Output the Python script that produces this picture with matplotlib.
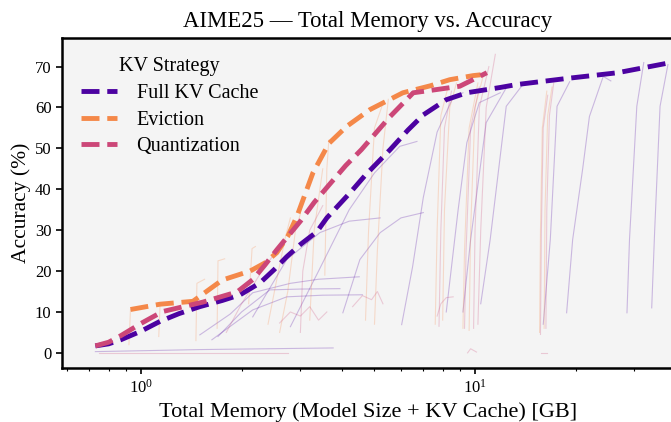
import matplotlib
matplotlib.use('Agg')
import matplotlib.pyplot as plt

plt.rcParams['font.family'] = ['Liberation Serif', 'DejaVu Serif']
plt.rcParams['mathtext.fontset'] = 'custom'
plt.rcParams['mathtext.rm'] = 'Liberation Serif'
plt.rcParams['mathtext.it'] = 'Liberation Serif:italic'

# ---- main (frontier) curves ----
full_mem = [0.73, 0.8, 0.87, 1.0, 1.14, 1.3, 1.5, 1.75, 1.98, 2.27, 2.5, 2.73, 3.0, 3.36, 3.6, 4.22, 4.7, 5.57, 6.3, 7.0, 8.2, 9.44, 11.9, 13.3, 18.8, 26.7, 38.6]
full_acc = [1.7, 2.2, 3.2, 5.3, 7.7, 9.6, 11.3, 12.8, 14.2, 17.1, 20.3, 23.5, 26.5, 29.6, 33.0, 39.1, 43.5, 49.7, 54.5, 58.2, 61.9, 63.6, 64.9, 65.6, 67.1, 68.5, 71.0]

evict_mem = [0.93, 1.14, 1.43, 1.6, 1.75, 2.12, 2.35, 2.55, 2.75, 2.93, 3.27, 3.65, 4.13, 4.85, 6.08, 7.34, 8.4, 9.87, 10.4]
evict_acc = [10.6, 11.9, 12.6, 15.5, 17.8, 20.0, 22.0, 24.5, 28.5, 33.4, 44.0, 51.2, 55.4, 59.5, 63.6, 65.3, 66.8, 67.8, 68.0]

quant_mem = [0.73, 0.8, 0.87, 1.0, 1.16, 1.53, 1.94, 2.16, 2.35, 2.55, 3.0, 3.3, 3.65, 4.1, 4.57, 5.57, 6.53, 7.69, 9.0, 10.85]
quant_acc = [1.7, 2.6, 4.2, 7.2, 10.1, 12.4, 14.9, 17.9, 21.5, 25.2, 32.2, 36.8, 41.0, 45.8, 49.7, 57.8, 63.6, 64.4, 65.2, 68.5]

# ---- individual configuration traces (faint) ----
full_runs = [
    ([0.73, 1.5, 3.76], [0.3, 0.8, 1.2]),
    ([1.5, 1.85, 2.16, 2.8, 3.4, 4.5], [4.4, 9.5, 14.7, 17.0, 18.0, 18.6]),
    ([1.63, 2.16, 2.73, 3.5, 4.6], [3.2, 10.5, 13.7, 14.1, 14.2]),
    ([1.7, 2.0, 2.43, 3.0, 3.94], [4.0, 10.0, 15.4, 15.6, 15.7]),
    ([2.16, 2.73, 3.43, 4.2, 5.2], [8.8, 22.8, 29.4, 32.2, 33.0]),
    ([4.02, 4.52, 5.2, 6.0, 7.0], [9.8, 22.8, 29.4, 33.0, 34.3]),
    ([6.03, 6.5, 7.0, 7.7, 8.6, 9.2], [6.9, 21.0, 38.0, 54.0, 62.5, 63.6]),
    ([2.8, 3.4, 4.2, 5.0, 5.95, 6.7], [6.4, 20.0, 35.0, 44.0, 50.5, 51.7]),
    ([8.2, 8.9, 9.45, 10.3, 11.9], [10.0, 35.0, 51.4, 61.2, 63.6]),
    ([9.2, 9.7, 10.8, 12.4], [10.0, 27.7, 56.3, 64.8]),
    ([10.4, 11.1, 12.4, 13.9], [12.0, 27.7, 60.3, 65.6]),
    ([16.0, 16.8, 17.6, 19.2], [7.0, 27.7, 60.3, 66.3]),
    ([18.8, 19.6, 21.0, 22.0, 24.2, 25.5], [9.8, 27.7, 45.0, 57.8, 67.6, 66.5]),
    ([28.5, 29.0, 30.5, 32.0], [9.8, 27.7, 60.3, 71.0]),
    ([33.8, 34.5, 35.8, 37.8], [11.0, 30.0, 60.3, 70.5]),
]

evict_runs = [
    ([0.92, 0.93, 0.96], [2.0, 10.6, 11.0]),
    ([1.13, 1.14, 1.2], [4.0, 11.5, 12.0]),
    ([1.46, 1.47, 1.55], [3.0, 17.0, 18.0]),
    ([1.69, 1.70, 1.78], [6.0, 22.5, 23.0]),
    ([2.1, 2.15, 2.2], [12.0, 25.5, 26.0]),
    ([2.4, 2.55, 2.7, 2.8], [7.0, 18.0, 28.0, 33.0]),
    ([2.6, 2.75, 2.9, 3.0], [5.0, 15.0, 30.0, 34.0]),
    ([3.55, 3.6, 3.65], [19.0, 45.0, 52.0]),
    ([3.2, 3.3, 3.5], [8.0, 30.0, 45.0]),
    ([4.7, 4.8, 5.0, 5.3], [8.0, 30.0, 55.0, 61.0]),
    ([5.0, 5.1, 5.3, 5.5], [7.0, 25.0, 50.0, 62.0]),
    ([7.6, 7.7, 7.9, 8.3], [7.0, 30.0, 58.0, 65.0]),
    ([8.0, 8.1, 8.4, 8.8], [8.0, 35.0, 60.0, 66.0]),
    ([9.2, 9.3, 9.6, 10.2], [6.0, 25.0, 55.0, 66.0]),
    ([9.6, 9.7, 10.0, 10.6], [5.5, 30.0, 60.0, 68.0]),
    ([15.6, 15.7, 15.9, 16.4], [5.0, 30.0, 55.0, 64.0]),
    ([16.1, 16.2, 16.5, 17.0], [6.0, 35.0, 58.0, 65.0]),
]

quant_runs = [
    ([0.75, 1.5, 2.75], [0.0, 0.0, 0.0]),
    ([2.6, 2.8, 3.0, 3.2, 3.4, 3.6], [7.3, 10.0, 9.0, 11.3, 8.0, 10.0]),
    ([4.3, 4.6, 4.9, 5.1, 5.3], [11.3, 14.0, 13.0, 15.0, 12.0]),
    ([7.7, 7.9, 8.2, 8.6], [9.0, 12.0, 13.5, 13.7]),
    ([9.5, 9.7, 10.1], [0.0, 1.0, 0.2]),
    ([15.8, 16.4], [0.0, 0.0]),
    ([1.8, 2.0, 2.3, 2.6], [5.0, 12.0, 20.0, 26.0]),
    ([3.0, 3.05, 3.2, 3.5], [5.0, 20.0, 30.0, 36.0]),
    ([7.8, 7.9, 8.1, 8.5], [6.5, 30.0, 55.0, 64.0]),
    ([9.3, 9.4, 9.7, 10.3], [6.0, 25.0, 55.0, 65.0]),
    ([9.9, 10.0, 10.3, 11.0], [6.0, 30.0, 60.0, 70.0]),
    ([10.2, 10.4, 10.8, 11.5], [7.0, 30.0, 60.0, 73.0]),
    ([15.7, 15.8, 16.0, 16.5], [4.5, 30.0, 55.0, 63.0]),
    ([16.3, 16.4, 16.7, 17.2], [6.0, 35.0, 58.0, 66.0]),
]

strategies = ['Full KV Cache', 'Eviction', 'Quantization']
colors = ['#4c02a1', '#f48849', '#cc4778']

fig = plt.figure(figsize=(6.71, 4.22), dpi=100)
ax = fig.add_axes([0.0924, 0.128, 0.912, 0.782])
ax.set_facecolor('#f4f4f4')

for runs, c in zip([full_runs, evict_runs, quant_runs], colors):
    for xs, ys in runs:
        ax.plot(xs, ys, color=c, alpha=0.25, lw=0.8, zorder=2)

for (xs, ys), c, lab in zip([(full_mem, full_acc), (evict_mem, evict_acc), (quant_mem, quant_acc)], colors, strategies):
    ax.plot(xs, ys, color=c, lw=3.5, ls='--', label=lab, zorder=3)

ax.set_xscale('log')
ax.set_xlim(0.58, 39.4)
ax.set_ylim(-3.7, 77)
ax.set_yticks([0, 10, 20, 30, 40, 50, 60, 70])
ax.tick_params(axis='both', which='major', labelsize=12, width=1.2, length=4)
ax.tick_params(axis='x', which='minor', width=0.8, length=2.5)
for s in ax.spines.values():
    s.set_linewidth(1.8)

ax.set_title('AIME25 — Total Memory vs. Accuracy', fontsize=16.4, pad=8)
ax.set_xlabel('Total Memory (Model Size + KV Cache) [GB]', fontsize=16)
ax.set_ylabel('Accuracy (%)', fontsize=15.5, labelpad=3)

leg = ax.legend(title='KV Strategy', loc='upper left', frameon=False, fontsize=14.5,
                title_fontsize=14.5, handlelength=1.8, handletextpad=0.95,
                labelspacing=0.38, borderaxespad=0.55)

fig.savefig('out.png', dpi=100)
